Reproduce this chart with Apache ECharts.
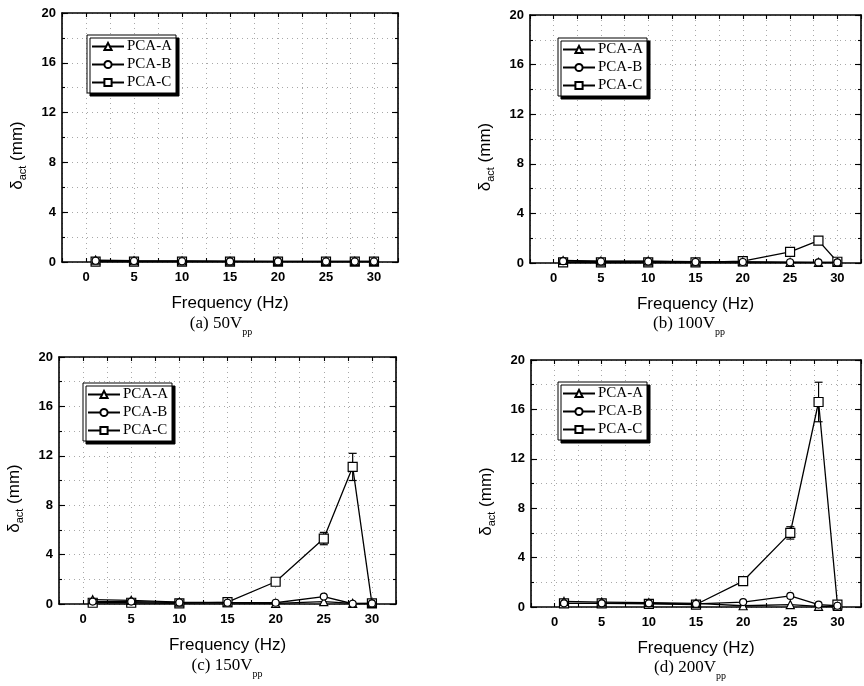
<!DOCTYPE html>
<html>
<head>
<meta charset="utf-8">
<script src="https://cdn.jsdelivr.net/npm/echarts@6/dist/echarts.min.js"></script>
<style>html,body{margin:0;padding:0;background:#fff}#c{width:864px;height:686px}</style>
</head>
<body>
<div id="c"></div>
<script>
// ---- data ----
const freqs = [1, 5, 10, 15, 20, 25, 28, 30];
const xTickLabels = [0, 5, 10, 15, 20, 25, 30];
const yTickLabels = [0, 4, 8, 12, 16, 20];
const seriesNames = ['PCA-A', 'PCA-B', 'PCA-C'];
const captions = ['(a) 50V', '(b) 100V', '(c) 150V', '(d) 200V'];

const v50A = [0.15, 0.10, 0.08, 0.06, 0.05, 0.05, 0.05, 0.05];
const v50B = [0.10, 0.08, 0.06, 0.05, 0.05, 0.04, 0.04, 0.04];
const v50C = [0.03, 0.03, 0.03, 0.03, 0.03, 0.03, 0.03, 0.03];
const e50C = [0, 0, 0, 0, 0, 0, 0, 0];

const v100A = [0.20, 0.15, 0.15, 0.10, 0.08, 0.05, 0.05, 0.05];
const v100B = [0.15, 0.12, 0.12, 0.08, 0.08, 0.06, 0.05, 0.05];
const v100C = [0.05, 0.05, 0.05, 0.05, 0.15, 0.90, 1.80, 0.10];
const e100C = [0, 0, 0, 0, 0, 0, 0, 0];

const v150A = [0.35, 0.30, 0.15, 0.10, 0.05, 0.20, 0.05, 0.05];
const v150B = [0.20, 0.20, 0.12, 0.10, 0.10, 0.60, 0.02, 0.05];
const v150C = [0.10, 0.10, 0.05, 0.15, 1.80, 5.30, 11.10, 0.05];
const e150C = [0, 0, 0, 0, 0.1, 0.5, 1.1, 0];

const v200A = [0.45, 0.40, 0.35, 0.30, 0.10, 0.20, 0.05, 0.05];
const v200B = [0.30, 0.30, 0.30, 0.25, 0.40, 0.90, 0.20, 0.10];
const v200C = [0.30, 0.30, 0.25, 0.20, 2.10, 6.00, 16.60, 0.20];
const e200C = [0, 0, 0, 0, 0.1, 0.5, 1.6, 0];

const panelValues = [
  [v50A, v50B, v50C, e50C],
  [v100A, v100B, v100C, e100C],
  [v150A, v150B, v150C, e150C],
  [v200A, v200B, v200C, e200C]
];

// ---- layout ----
const grids = [
  {left: 62, top: 13, width: 336, height: 249},
  {left: 530, top: 15, width: 338, height: 248},
  {left: 59, top: 357, width: 337, height: 247},
  {left: 531, top: 360, width: 337, height: 247}
];
const legendPos = [[87, 35], [558, 38], [83, 383], [558, 382]];
const captionPos = [[221, 324], [689, 324], [227, 666], [690, 668]];

const SANS = 'Liberation Sans, Arial, sans-serif';
const SERIF = 'Liberation Serif, Times New Roman, serif';
const black = '#000';
const dotted = {color: '#a8a8a8', type: [1, 4], width: 1};
const symbols = ['triangle', 'circle', 'rect'];
const symbolSizes = [8, 7, 9];
const zOrder = [4, 5, 3];

const xAxes = [], yAxes = [], series = [], legends = [], graphics = [];

function frameAxis(base, position, interval, length, showLine) {
  return Object.assign({}, base, {
    position: position, interval: interval,
    axisLine: {show: showLine, onZero: false, lineStyle: {color: black, width: 1.6}},
    axisTick: {show: true, inside: true, length: length, lineStyle: {color: black, width: 1.1}},
    axisLabel: {show: false}, splitLine: {show: false}
  });
}

grids.forEach((g, i) => {
  const xBase = {gridIndex: i, type: 'value', min: -2.5, max: 32.5};
  const yBase = {gridIndex: i, type: 'value', min: 0, max: 20};
  // bottom main
  xAxes.push(Object.assign({}, xBase, {
    position: 'bottom', interval: 2.5,
    axisLine: {show: true, onZero: false, lineStyle: {color: black, width: 1.6}},
    axisTick: {show: true, inside: true, length: 4, lineStyle: {color: black, width: 1.1}},
    axisLabel: {
      color: black, fontFamily: SANS, fontWeight: 'bold', fontSize: 13, margin: 9,
      formatter: v => (xTickLabels.indexOf(v) >= 0 ? String(v) : '')
    },
    splitLine: {show: true, lineStyle: dotted},
    name: 'Frequency (Hz)', nameLocation: 'middle', nameGap: 33,
    nameTextStyle: {color: black, fontFamily: SANS, fontSize: 17}
  }));
  xAxes.push(frameAxis(xBase, 'top', 2.5, 4, true));

  // left main
  yAxes.push(Object.assign({}, yBase, {
    position: 'left', interval: 2,
    axisLine: {show: true, onZero: false, lineStyle: {color: black, width: 1.6}},
    axisTick: {show: true, inside: true, length: 3, lineStyle: {color: black, width: 1.1}},
    axisLabel: {
      color: black, fontFamily: SANS, fontWeight: 'bold', fontSize: 13, margin: 6,
      formatter: v => (yTickLabels.indexOf(v) >= 0 ? String(v) : '')
    },
    splitLine: {show: true, lineStyle: dotted},
    name: 'δ{s|act} (mm)', nameLocation: 'middle', nameGap: 34, nameRotate: 90,
    nameTextStyle: {
      color: black, fontFamily: SANS, fontSize: 17, lineHeight: 22, padding: [0, 36, 0, 0],
      rich: {s: {fontFamily: SANS, fontSize: 11, color: black, lineHeight: 22, verticalAlign: 'bottom'}}
    }
  }));
  yAxes.push(frameAxis(yBase, 'left', 4, 6, false));
  yAxes.push(frameAxis(yBase, 'right', 2, 3, true));
  yAxes.push(frameAxis(yBase, 'right', 4, 6, false));

  const vals = panelValues[i];
  const xi = 2 * i, yi = 4 * i;
  // error bars for PCA-C
  series.push({
    type: 'custom', xAxisIndex: xi, yAxisIndex: yi, z: 1, silent: true,
    data: freqs.map((f, k) => [f, vals[2][k], vals[3][k]]).filter(d => d[2] > 0),
    renderItem: (params, api) => {
      const x = api.value(0), y = api.value(1), e = api.value(2);
      const t = api.coord([x, y + e]), b = api.coord([x, y - e]);
      const w = 4;
      const st = {stroke: black, lineWidth: 1.2};
      return {type: 'group', children: [
        {type: 'line', shape: {x1: t[0], y1: t[1], x2: b[0], y2: b[1]}, style: st},
        {type: 'line', shape: {x1: t[0] - w, y1: t[1], x2: t[0] + w, y2: t[1]}, style: st},
        {type: 'line', shape: {x1: b[0] - w, y1: b[1], x2: b[0] + w, y2: b[1]}, style: st}
      ]};
    }
  });
  seriesNames.forEach((nm, s) => {
    series.push({
      name: nm, type: 'line', xAxisIndex: xi, yAxisIndex: yi, z: zOrder[s],
      data: freqs.map((f, k) => [f, vals[s][k]]),
      symbol: symbols[s], symbolSize: symbolSizes[s], showAllSymbol: true,
      lineStyle: {color: black, width: 1.3},
      itemStyle: {color: '#fff', borderColor: black, borderWidth: 1.2},
      emphasis: {disabled: true}, animation: false
    });
  });

  legends.push({
    data: seriesNames, orient: 'vertical', left: legendPos[i][0], top: legendPos[i][1],
    itemWidth: 32, itemHeight: 9, itemGap: 3, padding: [4, 4, 3, 4],
    backgroundColor: '#fff', borderColor: black, borderWidth: 1,
    shadowColor: black, shadowBlur: 0, shadowOffsetX: 3, shadowOffsetY: 3,
    selectedMode: false,
    textStyle: {color: black, fontFamily: SERIF, fontSize: 15, padding: [0, 0, 0, -2]}
  });

  graphics.push({
    type: 'text', x: captionPos[i][0], y: captionPos[i][1],
    style: {
      text: captions[i] + '{s|pp}', align: 'center', verticalAlign: 'middle',
      fill: black, font: '17px ' + SERIF,
      rich: {s: {font: '10px ' + SERIF, fill: black, lineHeight: 26, verticalAlign: 'bottom'}}
    }
  });
});

const chart = echarts.init(document.getElementById('c'), null, {renderer: 'canvas'});
chart.setOption({
  animation: false,
  backgroundColor: '#fff',
  grid: grids,
  xAxis: xAxes,
  yAxis: yAxes,
  legend: legends,
  series: series,
  graphic: graphics
});
</script>
</body>
</html>
